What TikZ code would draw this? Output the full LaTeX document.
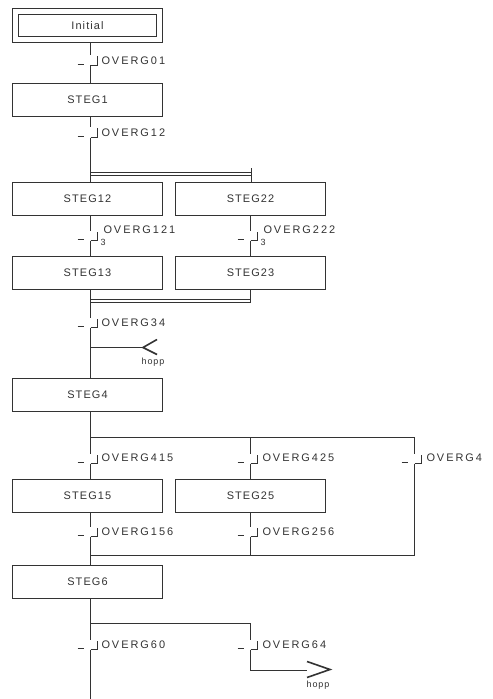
\documentclass[tikz,border=0pt]{standalone}
\usepackage{fontspec}
\setmainfont{Liberation Sans}[LetterSpace=10]
\newfontfamily\lblfont{Liberation Sans}[LetterSpace=18]
\newcommand\mktrans[3]{%
  \coordinate (#1) at (#2,#3);
  \coordinate (#1u) at (#2,#3-10);
  \pic at (#1) {condmark};}
\begin{document}
\begin{tikzpicture}[x=1bp,y=-1bp,line width=1bp,color=black!80,
  stepbox/.style={draw,minimum width=150bp,minimum height=33bp,inner sep=0pt,
    font=\fontsize{11}{12}\selectfont},
  initbox/.style={stepbox,double,double distance=5bp,minimum width=144bp,
    minimum height=28bp,outer sep=3.5bp},
  lbl/.style={anchor=west,inner sep=0pt,font=\lblfont\fontsize{11}{12}\selectfont},
  small/.style={inner sep=0pt,font=\fontsize{9}{10}\selectfont},
  jumpl/.style={inner sep=0pt,font=\fontsize{9}{10}\selectfont},
  arms/.style={line width=1.6bp},
  condmark/.pic={\draw (-13,-1) -- (-7,-1); \draw (0,0) -- (7,0) -- (7,-9);}]
\fill[white] (0,0) rectangle (493,699);
\useasboundingbox (0,0) rectangle (493,699);

% steps
\node[initbox] (init) at (87.5,25.5) {Initial};
\node[stepbox] (s1)  at (87.5,100)  {STEG1};
\node[stepbox] (s12) at (87.5,199)  {STEG12};
\node[stepbox] (s22) at (250.5,199) {STEG22};
\node[stepbox] (s13) at (87.5,273)  {STEG13};
\node[stepbox] (s23) at (250.5,273) {STEG23};
\node[stepbox] (s4)  at (87.5,395)  {STEG4};
\node[stepbox] (s15) at (87.5,496)  {STEG15};
\node[stepbox] (s25) at (250.5,496) {STEG25};
\node[stepbox] (s6)  at (87.5,582)  {STEG6};

% transitions
\mktrans{t01}{90.5}{65.5}
\mktrans{t12}{90.5}{137.5}
\mktrans{t121}{90.5}{240.5}
\mktrans{t222}{250.5}{240.5}
\mktrans{t34}{90.5}{327.5}
\mktrans{t415}{90.5}{463.5}
\mktrans{t425}{250.5}{463.5}
\mktrans{t46}{414.5}{463.5}
\mktrans{t156}{90.5}{536.5}
\mktrans{t256}{250.5}{536.5}
\mktrans{t60}{90.5}{649.5}
\mktrans{t64}{250.5}{649.5}

% labels
\node[lbl] (l01)  at (101,61)  {OVERG01};
\node[lbl] (l12)  at (101,133) {OVERG12};
\node[lbl] (l121) at (103,230) {OVERG121};
\node[small,anchor=west] (n3a) at (100,242) {3};
\node[lbl] (l222) at (263,230) {OVERG222};
\node[small,anchor=west] (n3b) at (260,242) {3};
\node[lbl] (l34)  at (101,323) {OVERG34};
\node[lbl] (l415) at (101,458) {OVERG415};
\node[lbl] (l425) at (262,458) {OVERG425};
\node[lbl] (l46)  at (426,458) {OVERG4};
\node[lbl] (l156) at (101,532) {OVERG156};
\node[lbl] (l256) at (262,532) {OVERG256};
\node[lbl] (l60)  at (101,645) {OVERG60};
\node[lbl] (l64)  at (262,645) {OVERG64};

% junction coordinates
\coordinate (d1L) at (90.5,172.5);  \coordinate (d1R) at (251.5,172.5);
\coordinate (d1Lb) at (90.5,175.5); \coordinate (d1Rb) at (251.5,175.5);
\coordinate (d1Rt) at (251.5,168);
\coordinate (d2L) at (90.5,299.5);  \coordinate (d2R) at (250.5,299.5);
\coordinate (d2Lb) at (90.5,302.5); \coordinate (d2Rb) at (250.5,302.5);
\coordinate (hin) at (143,347.5);
\coordinate (h1L) at (90.5,437.5);  \coordinate (h1R) at (414.5,437.5);
\coordinate (h2L) at (90.5,555.5);  \coordinate (h2R) at (414.5,555.5);
\coordinate (h3L) at (90.5,623.5);  \coordinate (h3R) at (250.5,623.5);
\coordinate (bot) at (90.5,699);
\coordinate (hbase) at (307,670.5);
\coordinate (hout) at (330,669.5);

% connectors
\draw (init.south -| t01) -- (t01u);
\draw (t01) -- (s1.north -| t01);
\draw (s1.south -| t12) -- (t12u);
\draw (t12) -- (s12.north -| t12);
\draw (d1L) -- (d1R);
\draw (d1Lb) -- (d1Rb);
\draw (d1Rt) -- (s22.north -| d1Rt);
\draw (s12.south -| t121) -- (t121u);
\draw (t121) -- (s13.north -| t121);
\draw (s22.south -| t222) -- (t222u);
\draw (t222) -- (s23.north -| t222);
\draw (d2L) -- (d2R);
\draw (d2Lb) -- (d2Rb);
\draw (s23.south -| d2Rb) -- (d2Rb);
\draw (s13.south -| t34) -- (t34u);
\draw (t34) -- (s4.north -| t34);
\draw (hin -| t34) -- (hin);
\draw[arms] ([shift={(14,-8)}]hin) -- (hin) -- ([shift={(14,7)}]hin);
\node[jumpl] (hinl) at (153,362) {hopp};
\draw (s4.south -| t415) -- (t415u);
\draw (h1L) -- (h1R) -- (t46u);
\draw (h1L -| t425) -- (t425u);
\draw (t415) -- (s15.north -| t415);
\draw (t425) -- (s25.north -| t425);
\draw (s15.south -| t156) -- (t156u);
\draw (s25.south -| t256) -- (t256u);
\draw (t46) -- (h2R) -- (h2L);
\draw (t256) -- (h2L -| t256);
\draw (t156) -- (s6.north -| t156);
\draw (s6.south -| t60) -- (t60u);
\draw (h3L) -- (h3R) -- (t64u);
\draw (t60) -- (bot);
\draw (t64) -- (hbase -| t64) -- (hbase);
\draw[arms] ([shift={(-23,-8)}]hout) -- (hout) -- ([shift={(-23,8)}]hout);
\node[jumpl] (houtl) at (318,685) {hopp};
\end{tikzpicture}
\end{document}
